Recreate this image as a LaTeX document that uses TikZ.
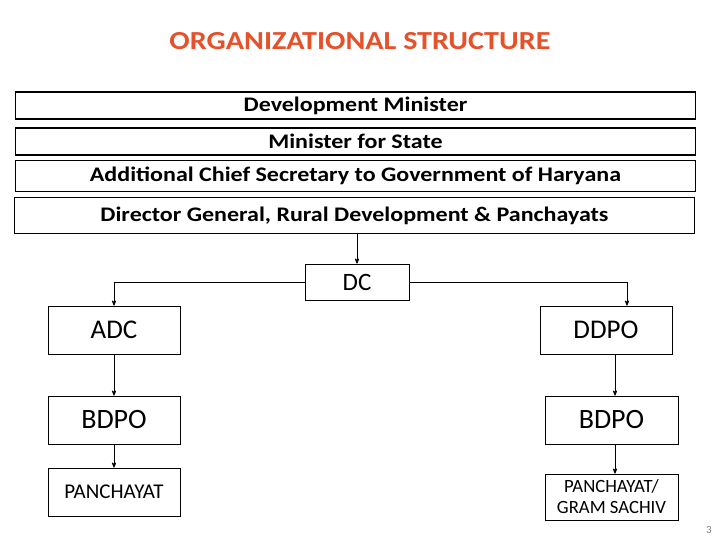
\documentclass[tikz,border=0pt]{standalone}
\usepackage{fontspec}
\setmainfont{Carlito}
\newfontfamily\widefont[FakeStretch=1.16]{Carlito}
\usepackage{xcolor}
\usetikzlibrary{arrows}
\definecolor{titleorange}{HTML}{E4512A}

\begin{document}
\begin{tikzpicture}[x=1pt,y=-1pt,>=stealth',shorten >=0pt,
  level/.style={draw,line width=1.4pt,minimum width=680pt,inner sep=0pt,font=\widefont\fontsize{20.7}{23}\selectfont\bfseries},
  post/.style={draw,line width=0.8pt,minimum width=132pt,minimum height=48pt,inner sep=0pt}]
  \useasboundingbox (0,0) rectangle (720,540);
  \node[font=\widefont\fontsize{26}{29}\selectfont\bfseries,text=titleorange] (title) at (360,41) {ORGANIZATIONAL STRUCTURE};

  \node[level,minimum height=27pt] (dm)  at (355.5,105.5) {Development Minister};
  \node[level,minimum height=27pt] (ms)  at (355.5,141.5) {Minister for State};
  \node[level,minimum height=31pt] (acs) at (355.5,176)   {Additional Chief Secretary to Government of Haryana};
  \node[level,minimum height=36pt] (dg)  at (354.5,215.5) {Director General, Rural Development \& Panchayats};

  \node[post,minimum width=104pt,minimum height=36pt,font=\fontsize{25}{28}\selectfont] (dc) at (357,282) {DC};
  \node[post,font=\fontsize{27}{30}\selectfont] (adc)   at (114,330) {ADC};
  \node[post,font=\fontsize{27}{30}\selectfont] (ddpo)  at (606,330) {DDPO};
  \node[post,font=\fontsize{28}{31}\selectfont] (bdpol) at (114,420) {BDPO};
  \node[post,minimum width=133pt,font=\fontsize{28}{31}\selectfont] (bdpor) at (611.5,420) {BDPO};
  \node[post,font=\fontsize{21}{24}\selectfont] (pan)   at (114,492) {PANCHAYAT};
  \node[post,minimum width=133pt,minimum height=46pt,align=center,font=\fontsize{18.7}{21}\selectfont] (gs) at (611.5,497) {PANCHAYAT/\\GRAM SACHIV};

  \node[text=gray,font=\fontsize{11}{13}\selectfont] (pg) at (709,530) {3};

  \path[->,line width=0.8pt]
    (dg.south -| dc.north) edge (dc.north)
    (adc.south) edge (bdpol.north)
    (bdpol.south) edge (pan.north)
    ([xshift=9pt]ddpo.south) edge ([xshift=9pt]ddpo.south |- bdpor.north)
    ([xshift=9pt]ddpo.south |- bdpor.south) edge ([xshift=9pt]ddpo.south |- gs.north);
  \draw[->,line width=0.8pt] (dc.west) -| (adc.north);
  \draw[->,line width=0.8pt] (dc.east) -| ([xshift=21pt]ddpo.north);
\end{tikzpicture}
\end{document}
